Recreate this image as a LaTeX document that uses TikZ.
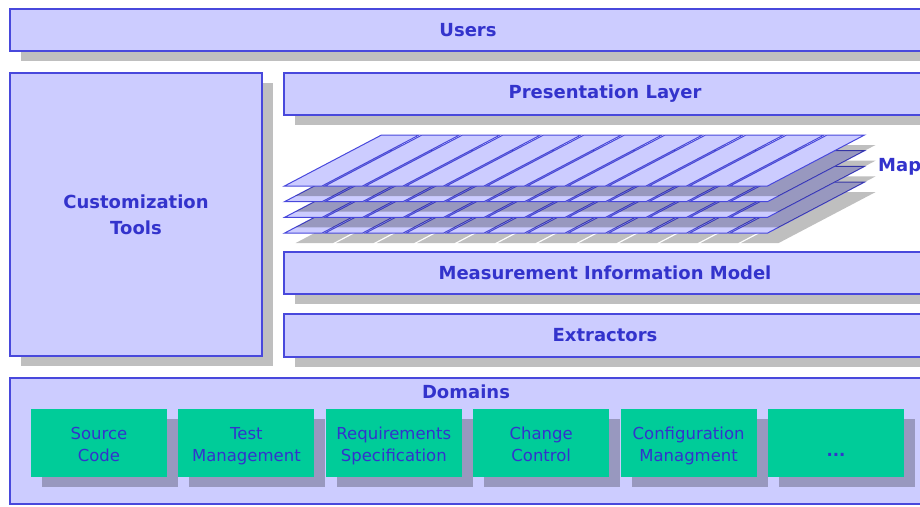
\documentclass[tikz,border=0pt]{standalone}
\usepackage{fontspec}
\setmainfont{DejaVu Sans}
\usetikzlibrary{positioning,shadows}
\definecolor{lav}{HTML}{CCCCFF}
\definecolor{edge}{HTML}{4848DC}
\definecolor{ink}{HTML}{3333CC}
\definecolor{dom}{HTML}{00CC99}
\tikzset{
  boxshadow/.style={drop shadow={shadow xshift=11pt, shadow yshift=-10pt, fill=black, opacity=.25}},
  lyr/.style={rectangle, draw=edge, fill=lav, line width=1.3pt, boxshadow,
              text=ink, align=center, inner sep=0pt, font=\fontsize{18}{26}\selectfont\bfseries},
  areabox/.style={rectangle, draw=edge, fill=lav, line width=1.3pt, inner sep=0pt},
  ttl/.style={text=ink, inner sep=0pt, font=\fontsize{18}{26}\selectfont\bfseries},
  dombox/.style={rectangle, fill=dom, boxshadow, text=ink, align=center, inner sep=0pt,
                 text height=36pt, text depth=0pt,
                 minimum width=136pt, minimum height=68pt, font=\fontsize{16.5}{22}\selectfont},
  maptile/.style={draw=edge, fill=lav, line width=1pt},
  tileshadow/.style={fill=black, fill opacity=.25}
}

\begin{document}
\begin{tikzpicture}[x=1pt, y=-1pt]
\useasboundingbox (0,0) rectangle (920,506);
\clip (0,0) rectangle (920,506);

% layers of the architecture
\node[lyr, minimum width=916pt, minimum height=42pt] (users) at (468,30) {Users};
\node[lyr, minimum width=252pt, minimum height=283pt] (cust) at (136,214.5) {Customization\\Tools};
\node[lyr, minimum width=642pt, minimum height=42pt] (pres) at (605,94) {Presentation Layer};
\node[lyr, minimum width=642pt, minimum height=42pt] (mim) at (605,273) {Measurement Information Model};
\node[lyr, minimum width=642pt, minimum height=43pt] (extr) at (605,335.5) {Extractors};

% stacked maps
\foreach \k in {3,2,1,0}{
  \pgfmathsetmacro{\yb}{186+15.7*\k}
  \foreach \i in {0,...,11}{
    \pgfmathsetmacro{\xa}{283+40.5*\i+1.5}
    \pgfmathsetmacro{\xb}{283+40.5*(\i+1)-1.5}
    \fill[tileshadow] (\xa+11,\yb+10) -- (\xb+11,\yb+10) -- (\xb+108,\yb-41) -- (\xa+108,\yb-41) -- cycle;
  }
  \foreach \i in {0,...,11}{
    \pgfmathsetmacro{\xa}{283+40.5*\i+1.5}
    \pgfmathsetmacro{\xb}{283+40.5*(\i+1)-1.5}
    \draw[maptile] (\xa,\yb) -- (\xb,\yb) -- (\xb+97,\yb-51) -- (\xa+97,\yb-51) -- cycle;
  }
}
\node[ttl, anchor=west] (maps) at (878,167) {Map};

% domains
\node[areabox, minimum width=916pt, minimum height=126pt] (doms) at (468,441) {};
\node[ttl] (domttl) at (466,392) {Domains};
\node[dombox] (src) at (99,443) {Source\\Code};
\node[dombox, right=11pt of src] (tst) {Test\\Management};
\node[dombox, right=11pt of tst] (req) {Requirements\\Specification};
\node[dombox, right=11pt of req] (chg) {Change\\Control};
\node[dombox, right=11pt of chg] (cfg) {Configuration\\Managment};
\node[dombox, right=11pt of cfg] (more) {\raisebox{5pt}{\textbf{...}}};
\end{tikzpicture}
\end{document}
